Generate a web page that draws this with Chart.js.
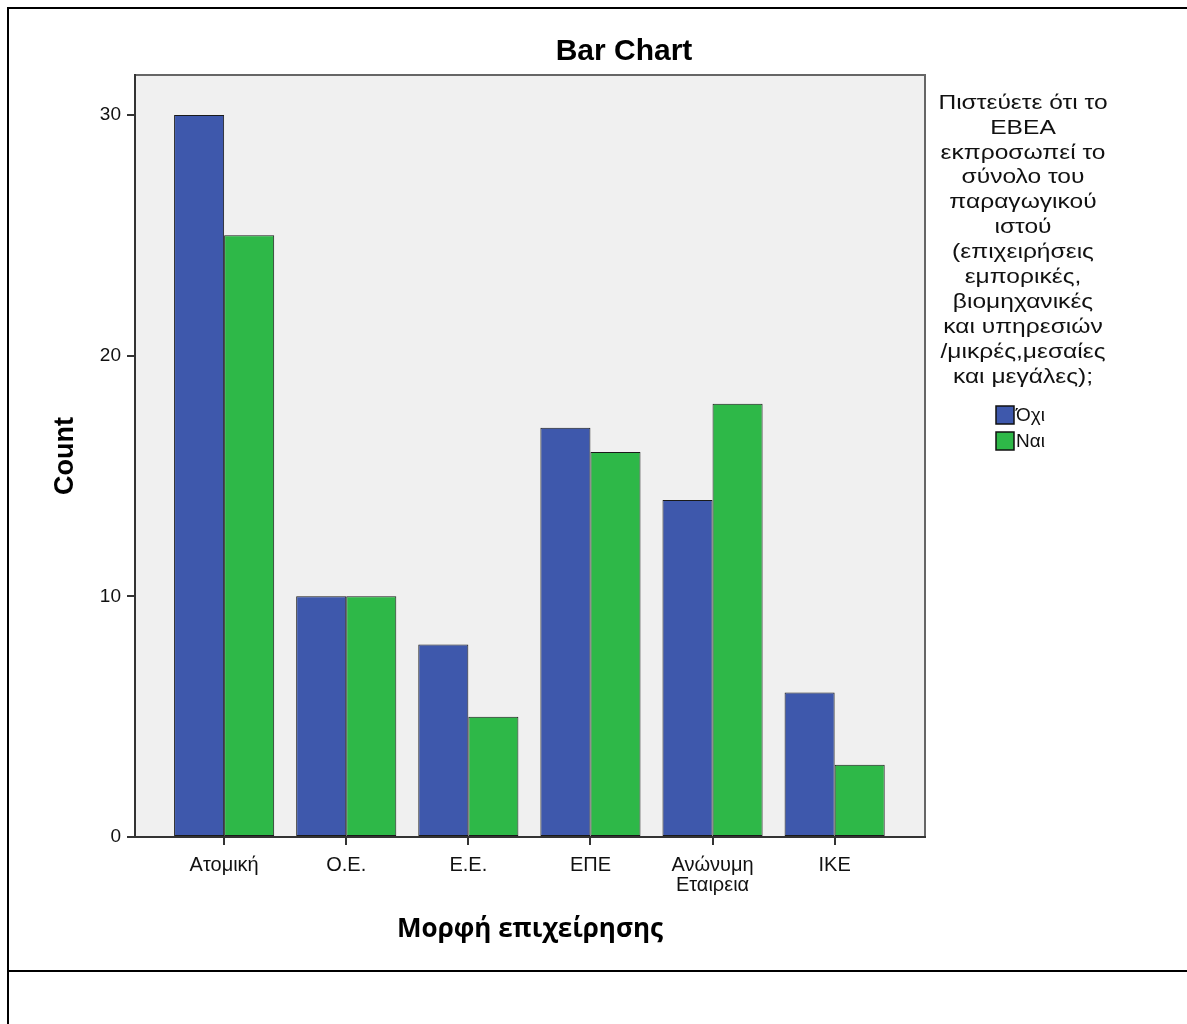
<!DOCTYPE html>
<html>
<head>
<meta charset="utf-8">
<script src="https://cdn.jsdelivr.net/npm/chart.js@4"></script>
<style>
  html, body { margin: 0; padding: 0; background: #fff; }
  #wrap { position: relative; width: 1187px; height: 1024px; }
  canvas { position: absolute; left: 0; top: 0; }
  .ln { position: absolute; background: #000; }
</style>
</head>
<body>
<div id="wrap">
  <canvas id="c" width="1187" height="1024"></canvas>
  <div class="ln" style="left:7px; top:7px; width:1180px; height:2px;"></div>
  <div class="ln" style="left:7px; top:7px; width:2px; height:1017px;"></div>
  <div class="ln" style="left:7px; top:970px; width:1180px; height:2px;"></div>
</div>
<script>
const categories = ['Ατομική', 'Ο.Ε.', 'Ε.Ε.', 'ΕΠΕ', 'Ανώνυμη\nΕταιρεια', 'ΙΚΕ'];
const seriesNames = ['Όχι', 'Ναι'];
const valuesNo = [30, 10, 8, 17, 14, 6];
const valuesYes = [25, 10, 5, 16, 18, 3];
const yTicks = [0, 10, 20, 30];
const chartTitle = 'Bar Chart';
const xTitle = 'Μορφή επιχείρησης';
const yTitle = 'Count';
const legendTitle = ['Πιστεύετε ότι το', 'ΕΒΕΑ', 'εκπροσωπεί το', 'σύνολο του', 'παραγωγικού', 'ιστού', '(επιχειρήσεις', 'εμπορικές,', 'βιομηχανικές', 'και υπηρεσιών', '/μικρές,μεσαίες', 'και μεγάλες);'];

const colors = ['#3e58ac', '#2eb848'];
const SANS = '"Liberation Sans", Arial, sans-serif';

const plotBg = {
  id: 'plotBg',
  beforeDraw(chart) {
    const {ctx, chartArea: a} = chart;
    ctx.save();
    ctx.fillStyle = '#f0f0f0';
    ctx.fillRect(a.left, a.top, a.right - a.left, a.bottom - a.top);
    ctx.strokeStyle = '#666';
    ctx.lineWidth = 2;
    ctx.beginPath();
    ctx.moveTo(a.left, a.top); ctx.lineTo(a.right, a.top); ctx.lineTo(a.right, a.bottom);
    ctx.stroke();
    ctx.restore();
  },
  afterDraw(chart) {
    const {ctx} = chart;
    ctx.save();
    ctx.fillStyle = '#000';
    ctx.font = 'bold 30px ' + SANS;
    ctx.textAlign = 'center';
    ctx.textBaseline = 'middle';
    ctx.fillText(chartTitle, 624, 52);
    // legend title (slightly widened glyphs like the original renderer)
    ctx.save();
    const cx = 1023, sx = 1.17;
    ctx.translate(cx, 0);
    ctx.scale(sx, 1);
    ctx.font = '21px ' + SANS;
    ctx.fillStyle = '#111';
    legendTitle.forEach((t, i) => ctx.fillText(t, 0, 103 + i * 24.9));
    ctx.restore();
    ctx.textAlign = 'left';
    ctx.font = '19px ' + SANS;
    seriesNames.forEach((n, i) => {
      const y = 406 + i * 26;
      ctx.fillStyle = colors[i];
      ctx.fillRect(996, y, 18, 18);
      ctx.strokeStyle = '#111';
      ctx.lineWidth = 1.5;
      ctx.strokeRect(996, y, 18, 18);
      ctx.fillStyle = '#111';
      ctx.fillText(n, 1016, y + 10);
    });
    ctx.restore();
  }
};

const datasets = [valuesNo, valuesYes].map((vals, k) => ({
  label: seriesNames[k],
  data: vals.map((v, i) => ({x: i, y: v})),
  backgroundColor: colors[k],
  borderColor: '#1a1a1a',
  borderWidth: 1,
  borderSkipped: false,
  categoryPercentage: 0.82,
  barPercentage: 1.0
}));

new Chart(document.getElementById('c'), {
  type: 'bar',
  data: { datasets },
  plugins: [plotBg],
  options: {
    responsive: false,
    animation: false,
    layout: { padding: { left: 0, top: 75, right: 262, bottom: 0 } },
    plugins: { legend: { display: false }, tooltip: { enabled: false } },
    scales: {
      x: {
        type: 'linear',
        min: -0.73,
        max: 5.74,
        offset: false,
        afterBuildTicks(scale) { scale.ticks = categories.map((c, i) => ({value: i})); },
        afterFit(scale) { scale.height = 187; },
        ticks: {
          autoSkip: false,
          maxRotation: 0,
          padding: 10,
          color: '#111',
          font: { family: SANS, size: 20, lineHeight: 1.02 },
          callback: (v) => categories[v] !== undefined ? categories[v].split('\n') : ''
        },
        grid: { offset: false, drawOnChartArea: false, drawTicks: true, tickLength: 8, color: '#333', lineWidth: 2 },
        border: { display: true, color: '#333', width: 2 },
        title: {
          display: true, text: xTitle, color: '#000',
          font: { family: '"Open Sans", sans-serif', size: 26, weight: 'bold', lineHeight: 1.2 },
          padding: { top: 0, bottom: 79 }
        }
      },
      y: {
        min: 0,
        max: 31.66,
        afterBuildTicks(scale) { scale.ticks = yTicks.map(v => ({value: v})); },
        afterFit(scale) { scale.width = 135; },
        ticks: {
          padding: 6,
          color: '#111',
          font: { family: SANS, size: 19 }
        },
        grid: { drawOnChartArea: false, drawTicks: true, tickLength: 8, color: '#333', lineWidth: 2 },
        border: { display: true, color: '#333', width: 2 },
        title: {
          display: true, text: yTitle, color: '#000',
          font: { family: SANS, size: 27, weight: 'bold', lineHeight: 1.2 },
          padding: { top: 49, bottom: 0 }
        }
      }
    }
  }
});
</script>
</body>
</html>
